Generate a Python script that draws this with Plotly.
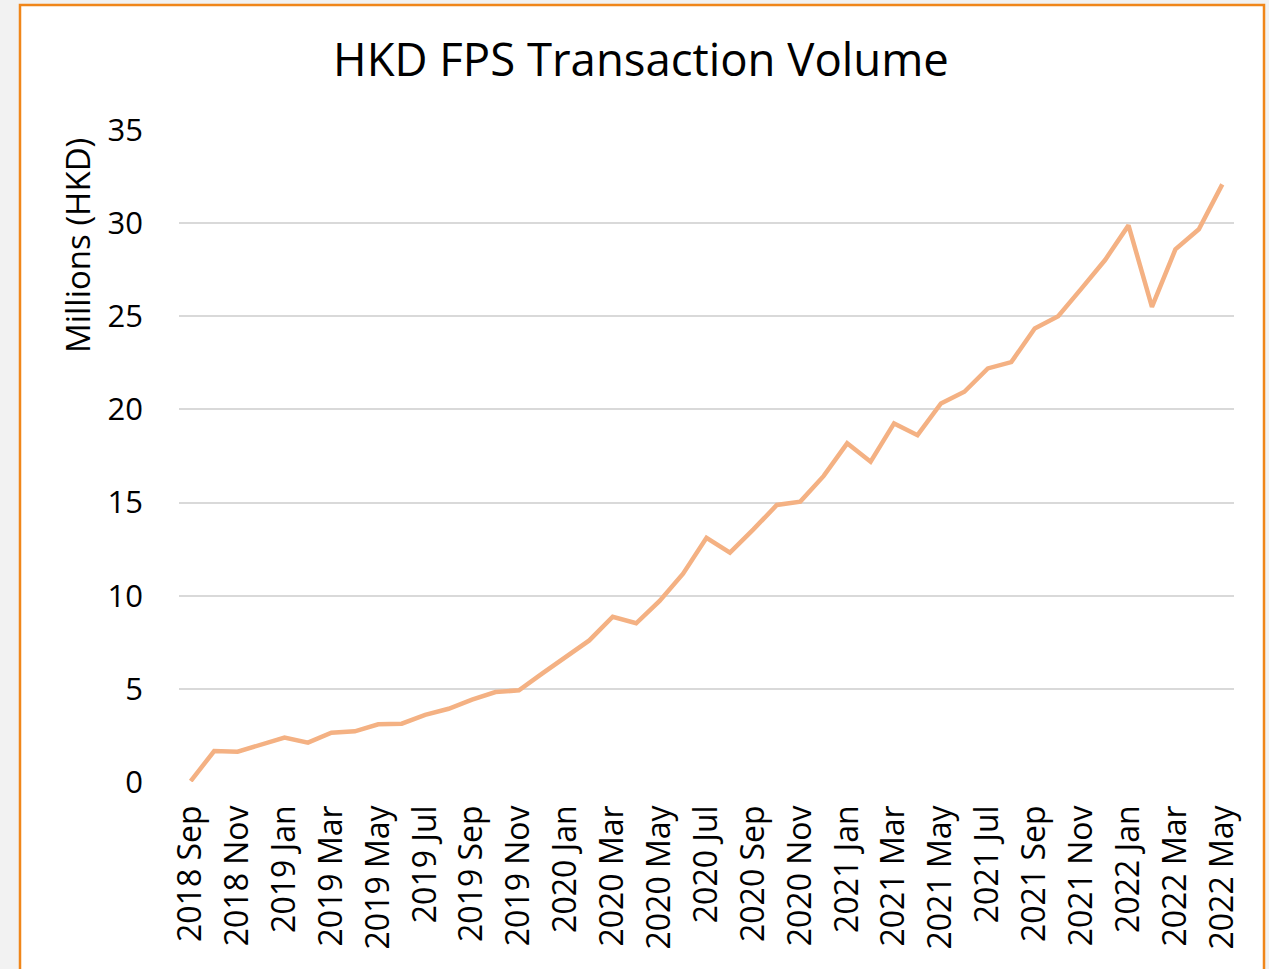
import plotly.graph_objects as go

months = [
    "2018 Sep", "2018 Oct", "2018 Nov", "2018 Dec",
    "2019 Jan", "2019 Feb", "2019 Mar", "2019 Apr", "2019 May", "2019 Jun",
    "2019 Jul", "2019 Aug", "2019 Sep", "2019 Oct", "2019 Nov", "2019 Dec",
    "2020 Jan", "2020 Feb", "2020 Mar", "2020 Apr", "2020 May", "2020 Jun",
    "2020 Jul", "2020 Aug", "2020 Sep", "2020 Oct", "2020 Nov", "2020 Dec",
    "2021 Jan", "2021 Feb", "2021 Mar", "2021 Apr", "2021 May", "2021 Jun",
    "2021 Jul", "2021 Aug", "2021 Sep", "2021 Oct", "2021 Nov", "2021 Dec",
    "2022 Jan", "2022 Feb", "2022 Mar", "2022 Apr", "2022 May",
]
volume = [
    0.05, 1.66, 1.63, 2.0,
    2.38, 2.11, 2.65, 2.72, 3.10, 3.13,
    3.60, 3.93, 4.42, 4.83, 4.92, 5.83,
    6.72, 7.60, 8.87, 8.52, 9.72, 11.18,
    13.11, 12.31, 13.56, 14.87, 15.05, 16.43,
    18.18, 17.19, 19.25, 18.62, 20.32, 20.95,
    22.20, 22.54, 24.35, 25.00, 26.50, 28.02,
    29.88, 25.51, 28.59, 29.67, 32.08,
]
tick_labels = months[::2]
y_ticks = [0, 5, 10, 15, 20, 25, 30, 35]

W, H = 1269, 969
L, R, T, B = 179, 35, 130, 187
pw, ph = W - L - R, H - T - B

FONT = "Open Sans"

fig = go.Figure()
fig.add_trace(go.Scatter(
    x=months, y=volume, mode="lines",
    line=dict(color="#F4B183", width=4.5),
    hoverinfo="x+y",
))

def px_x(p):
    return (p - L) / pw

def px_y(p):
    return (H - B - p) / ph

fig.update_layout(
    width=W, height=H,
    margin=dict(l=L, r=R, t=T, b=B, autoexpand=False),
    paper_bgcolor="#F2F2F2",
    plot_bgcolor="white",
    showlegend=False,
    font=dict(family=FONT, color="black"),
    title=dict(
        text="HKD FPS Transaction Volume",
        x=641 / W, xref="container", xanchor="center",
        y=1 - 60 / H, yref="container", yanchor="middle",
        font=dict(family=FONT, size=45.5, color="black"),
    ),
    xaxis=dict(
        type="category",
        categoryorder="array", categoryarray=months,
        range=[-0.5, len(months) - 0.5],
        tickmode="array", tickvals=tick_labels, ticktext=tick_labels,
        tickangle=-90,
        tickfont=dict(family=FONT, size=32, color="black"),
        showgrid=False, zeroline=False,
        showline=False, ticks="",
        ticklabelstandoff=16,
    ),
    yaxis=dict(
        range=[0, 35],
        tickmode="array", tickvals=y_ticks,
        tickfont=dict(family=FONT, size=31, color="black"),
        showgrid=True, gridcolor="#D9D9D9", gridwidth=1.5,
        zeroline=False, showline=False, ticks="",
        ticklabelstandoff=35,
    ),
    shapes=[
        dict(
            type="rect", xref="paper", yref="paper", layer="below",
            x0=px_x(20), x1=px_x(1264), y0=px_y(990), y1=px_y(5),
            fillcolor="white", line=dict(color="#F0861A", width=2.5),
        ),
    ],
    annotations=[
        dict(
            text="Millions (HKD)", textangle=-90,
            xref="paper", yref="paper",
            x=px_x(77), y=px_y(246), xanchor="center", yanchor="middle",
            showarrow=False,
            font=dict(family=FONT, size=33, color="black"),
        ),
    ],
)

fig.write_html(
    "out.html",
    config={"displayModeBar": False},
    post_script="document.body.style.margin='0';document.body.style.background='#F2F2F2';",
)
